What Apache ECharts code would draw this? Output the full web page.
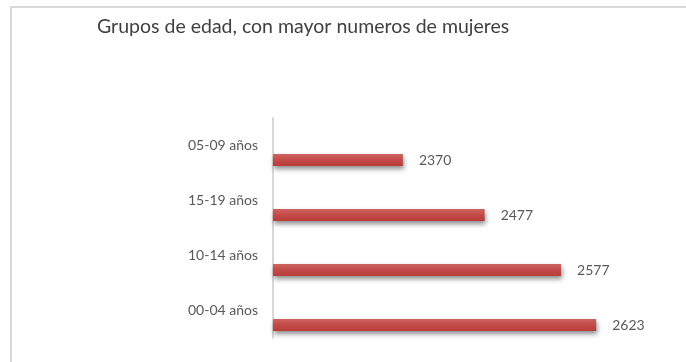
<!DOCTYPE html>
<html>
<head>
<meta charset="utf-8">
<style>
  html, body { margin: 0; padding: 0; background: #ffffff; }
  #chart { width: 686px; height: 362px; }
</style>
<script src="https://cdn.jsdelivr.net/npm/echarts@6/dist/echarts.min.js"></script>
</head>
<body>
<div id="chart"></div>
<script>
// Age groups (bottom to top) and number of women in each
const categories = ['00-04 años', '10-14 años', '15-19 años', '05-09 años'];
const mujeres = [2623, 2577, 2477, 2370];
const titleText = 'Grupos de edad, con mayor numeros de mujeres';

const FONT = 'Lato, "Open Sans", sans-serif';
const chart = echarts.init(document.getElementById('chart'), null, { renderer: 'canvas' });

chart.setOption({
  animation: false,
  backgroundColor: '#ffffff',
  title: {
    text: titleText,
    left: 92,
    top: 12,
    textStyle: { fontFamily: FONT, fontSize: 19.5, fontWeight: 'normal', color: '#404040' }
  },
  graphic: [{
    type: 'rect',
    shape: { x: 11, y: 7, width: 700, height: 400 },
    style: { fill: 'none', stroke: '#d9d9d9', lineWidth: 2 },
    silent: true,
    z: -1
  }],
  grid: { left: 273, right: 31, top: 118, bottom: 24 },
  xAxis: {
    type: 'value',
    min: 2200,
    max: 2700,
    show: false
  },
  yAxis: {
    type: 'category',
    data: categories,
    axisLine: { show: true, lineStyle: { color: '#d9d9d9', width: 2 } },
    axisTick: { show: false },
    axisLabel: { fontFamily: FONT, fontSize: 14, color: '#595959', margin: 15 },
    splitLine: { show: false }
  },
  series: [
    {
      name: 'vacío',
      type: 'bar',
      data: [],
      barWidth: 12,
      barGap: '142%'
    },
    {
      name: 'Mujeres',
      type: 'bar',
      data: mujeres,
      barWidth: 12,
      barGap: '142%',
      itemStyle: {
        color: new echarts.graphic.LinearGradient(0, 0, 0, 1, [
          { offset: 0, color: '#cd6462' },
          { offset: 0.5, color: '#c34a48' },
          { offset: 1, color: '#b83c3a' }
        ]),
        shadowColor: 'rgba(0,0,0,0.45)',
        shadowBlur: 5,
        shadowOffsetY: 3,
        shadowOffsetX: 1
      },
      label: {
        show: true,
        position: 'right',
        distance: 16,
        fontFamily: FONT,
        fontSize: 14,
        color: '#595959'
      }
    }
  ]
});
</script>
</body>
</html>
